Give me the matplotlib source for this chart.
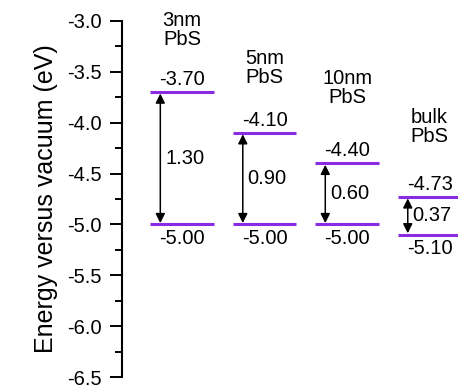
import matplotlib.pyplot as plt
from matplotlib.ticker import MultipleLocator

plt.rcParams['font.family'] = ['Liberation Sans', 'DejaVu Sans']

# band edges of PbS for each particle size (eV vs vacuum)
sizes = ['3nm\nPbS', '5nm\nPbS', '10nm\nPbS', 'bulk\nPbS']
cb = [-3.70, -4.10, -4.40, -4.73]
vb = [-5.00, -5.00, -5.00, -5.10]
gaps = [1.30, 0.90, 0.60, 0.37]
name_gap = [0.42, 0.45, 0.55, 0.50]

purple = '#8a2be2'
half = 0.385

fig = plt.figure(figsize=(4.58, 3.88), dpi=100)
ax = fig.add_axes([0.267, 0.028, 0.733, 0.918])

for i, name in enumerate(sizes):
    x = i + 1
    ax.hlines([cb[i], vb[i]], x - half, x + half, color=purple, lw=2.2)
    xa = x - 0.265
    ax.annotate('', xy=(xa, cb[i]), xytext=(xa, vb[i]),
                arrowprops=dict(arrowstyle='<|-|>', color='black', lw=1.1,
                                mutation_scale=14, shrinkA=1, shrinkB=1))
    ax.text(x, cb[i] + 0.03, f'{cb[i]:.2f}', ha='center', va='bottom', fontsize=14.5)
    ax.text(x, vb[i] - 0.04, f'{vb[i]:.2f}', ha='center', va='top', fontsize=14.5)
    ax.text(xa + 0.06, (cb[i] + vb[i]) / 2, f'{gaps[i]:.2f}', ha='left', va='center',
            fontsize=14.5)
    ax.text(x, cb[i] + name_gap[i], name, ha='center', va='bottom', fontsize=14.5,
            linespacing=1.0)

ax.set_xlim(0.274, 4.344)
ax.set_ylim(-6.5, -3.0)
ax.yaxis.set_major_locator(MultipleLocator(0.5))
ax.yaxis.set_minor_locator(MultipleLocator(0.25))
ax.yaxis.set_major_formatter(plt.FuncFormatter(lambda v, p: f'{v:.1f}'))
ax.tick_params(axis='y', which='major', length=9, width=1.4, labelsize=14.5, pad=6)
ax.tick_params(axis='y', which='minor', length=5, width=1.4)
ax.set_xticks([])
for s in ['top', 'right', 'bottom']:
    ax.spines[s].set_visible(False)
ax.spines['left'].set_linewidth(1.5)
ax.set_ylabel('Energy versus vacuum (eV)', fontsize=18, labelpad=6)

fig.savefig('out.png', dpi=100)
